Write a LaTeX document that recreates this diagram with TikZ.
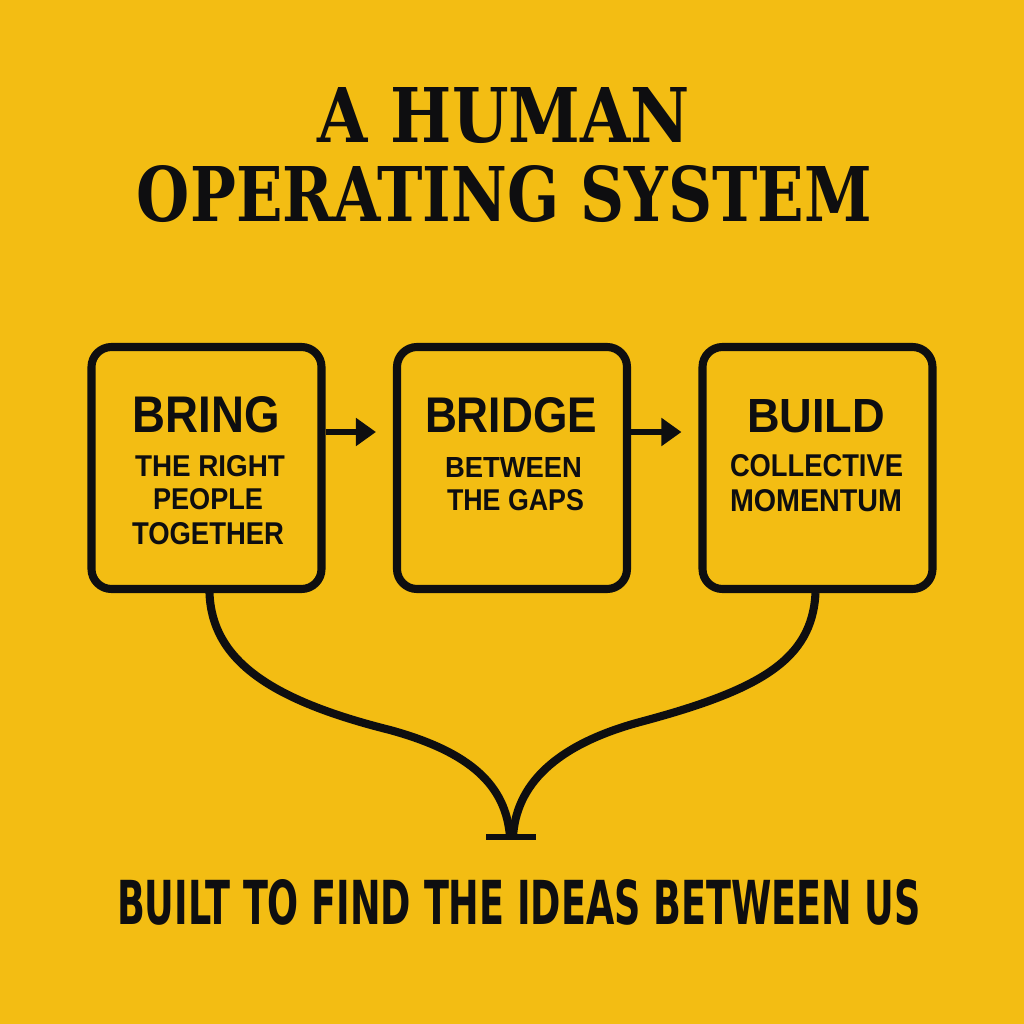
\documentclass[tikz,border=0pt]{standalone}
\usepackage{fontspec}
\usepackage{graphicx}
\usetikzlibrary{arrows.meta, positioning, calc}
\setmainfont{Liberation Sans}
\newfontfamily\titlefont{DejaVu Serif}
\newfontfamily\tagfont{DejaVu Sans}
\definecolor{posteryellow}{HTML}{F3BD13}
\definecolor{posterink}{HTML}{0E0E10}
% squeeze a line of capitals into a measured box (width, cap height in mm)
\newcommand{\fitline}[3]{\resizebox{#1mm}{#2mm}{#3}}

\begin{document}
\begin{tikzpicture}[
      x=0.1mm, y=-0.1mm,
      stage/.style={draw=posterink, line width=2.3pt, rounded corners=2mm,
        minimum width=23mm, minimum height=24.2mm},
      title/.style={inner sep=0, text=posterink, font=\titlefont\bfseries},
      head/.style={inner sep=0, text=posterink, font=\bfseries},
      sub/.style={inner sep=0, text=posterink, font=\bfseries},
      tagline/.style={inner sep=0, text=posterink, font=\tagfont\bfseries},
      flow/.style={-{Triangle[length=2mm, width=2.7mm]}, posterink,
        line width=1.9pt, shorten >=1.7mm},
      link/.style={posterink, line width=2.3pt},
      >=Latex
    ]
      \fill[posteryellow] (0,0) rectangle (1024,1024);

      \node[title] (ttlone) at (504,115.5) {\fitline{37.2}{5.5}{A HUMAN}};
      \node[title] (ttltwo) at (504.5,194) {\fitline{73.5}{5.6}{OPERATING SYSTEM}};

      \node[stage] (bring) at (206.5,468) {};
      \node[stage] (bridge) at (512,468) {};
      \node[stage] (build) at (817.5,468) {};

      \node[head] (bringhead) at (206.5,415) {\fitline{14.7}{3.6}{BRING}};
      \node[sub] (bringa) at (210,466.5) {\fitline{15.0}{2.1}{THE RIGHT}};
      \node[sub] (bringb) at (208,499.5) {\fitline{11.0}{2.1}{PEOPLE}};
      \node[sub] (bringc) at (208,534) {\fitline{15.2}{2.2}{TOGETHER}};

      \node[head] (bridgehead) at (511,415.5) {\fitline{17.2}{3.5}{BRIDGE}};
      \node[sub] (bridgea) at (513.5,467) {\fitline{13.7}{2.0}{BETWEEN}};
      \node[sub] (bridgeb) at (515.5,500.5) {\fitline{13.7}{2.1}{THE GAPS}};

      \node[head] (buildhead) at (816,416.5) {\fitline{13.8}{3.3}{BUILD}};
      \node[sub] (builda) at (816.5,466) {\fitline{17.3}{2.2}{COLLECTIVE}};
      \node[sub] (buildb) at (816,501) {\fitline{17.2}{2.2}{MOMENTUM}};

      \draw[flow] ([yshift=3.6mm]bring.east) -- ([yshift=3.6mm]bridge.west);
      \draw[flow] ([yshift=3.6mm]bridge.east) -- ([yshift=3.6mm]build.west);

      \coordinate (meet) at (511,837);
      \draw[link] ([xshift=0.3mm]bring.south) .. controls (212,660) and (270,700) ..
        (390,730) .. controls (470,752) and (506,785) .. ([xshift=-0.1mm]meet);
      \draw[link] ([xshift=-0.2mm]build.south) .. controls (812,660) and (760,690) ..
        (640,722) .. controls (555,745) and (516,785) .. ([xshift=0.2mm]meet);
      \draw[posterink, line width=1.5pt] ([xshift=-2.5mm]meet) -- ([xshift=2.5mm]meet);

      \node[tagline] (tag) at (519,902.5)
        {\fitline{80.4}{4.5}{BUILT TO FIND THE IDEAS BETWEEN US}};
    \end{tikzpicture}
\end{document}
